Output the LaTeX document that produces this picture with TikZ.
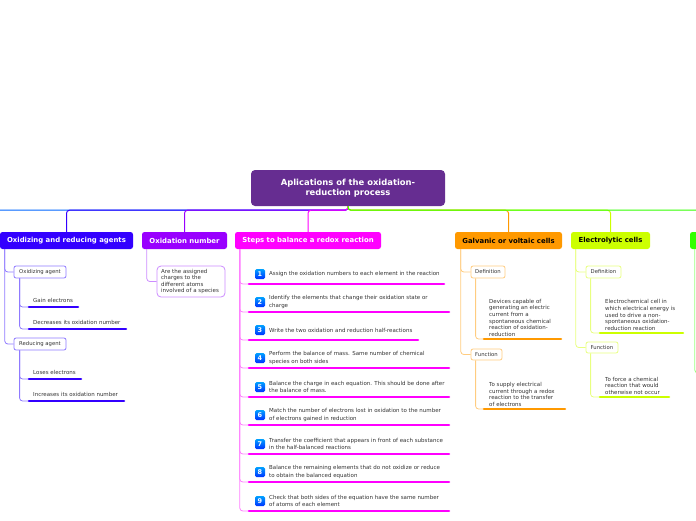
\documentclass[tikz,border=0pt]{standalone}
\usepackage{fontspec}
\setmainfont{DejaVu Sans}
\definecolor{croot}{HTML}{662D91}
\definecolor{czero}{HTML}{0066FF}
\definecolor{cone}{HTML}{3300FF}
\definecolor{ctwo}{HTML}{9900FF}
\definecolor{cthree}{HTML}{FF00FF}
\definecolor{cfour}{HTML}{FF9900}
\definecolor{cfive}{HTML}{CCFF00}
\definecolor{csix}{HTML}{33FF00}
\definecolor{lone}{HTML}{8F7AFF}
\definecolor{ltwo}{HTML}{CC8CFF}
\definecolor{lthree}{HTML}{FF80FF}
\definecolor{lfour}{HTML}{FFCC80}
\definecolor{lfive}{HTML}{E8FF80}
\definecolor{lsix}{HTML}{99FF80}
\definecolor{txt}{HTML}{333333}
\begin{document}
\begin{tikzpicture}[x=1pt,y=-1pt,
  rootbox/.style={fill=croot,rounded corners=4,minimum width=194,minimum height=36,inner sep=0,align=center,text=white,font=\bfseries\fontsize{8.4}{10.5}\selectfont},
  mainbox/.style={rounded corners=2.5,minimum height=17,inner sep=0,font=\bfseries\fontsize{6.9}{7}\selectfont},
  subbox/.style={draw,fill=white,line width=0.8,rounded corners=2,inner sep=0,minimum height=12,text=txt,font=\fontsize{5.3}{6}\selectfont},
  leaftext/.style={inner sep=0,align=left,text=txt,font=\fontsize{5.5}{6.6}\selectfont},
  steptext/.style={inner sep=0,align=left,text=txt,font=\fontsize{5.5}{7.8}\selectfont,anchor=west},
  stepicon/.style={rounded corners=1.5,minimum size=10,inner sep=0,top color=blue!10!cyan!70!blue,bottom color=blue!80!cyan,text=white,font=\bfseries\fontsize{6.5}{6}\selectfont},
  branchline/.style={line width=1,rounded corners=3},
  treeline/.style={line width=0.8,rounded corners=3},
  uline/.style={line width=2.6,line cap=round},
]
\useasboundingbox (0,0) rectangle (696,520);
\clip (0,0) rectangle (696,520);

% root
\node[rootbox] (root) at (348,188) {Aplications of the oxidation-\\reduction process};

% main branches
\node[mainbox,fill=cone,text=white,minimum width=133] (oxa) at (66.5,240.5) {Oxidizing and reducing agents};
\node[mainbox,fill=ctwo,text=white,minimum width=85] (oxn) at (184.5,240.5) {Oxidation number};
\node[mainbox,fill=cthree,text=white,minimum width=146] (steps) at (308,240.5) {Steps to balance a redox reaction};
\node[mainbox,fill=cfour,text=black,minimum width=107] (galv) at (508.5,240.5) {Galvanic or voltaic cells};
\node[mainbox,fill=cfive,text=black,minimum width=79] (elec) at (610.5,240.5) {Electrolytic cells};
\node[mainbox,fill=csix,minimum width=30] (grn) at (705,240.5) {};
\coordinate (offl) at (-40,232);

\draw[branchline,czero] (root.south) -- ++(0,4) -| (offl);
\draw[branchline,cone] (root.south) -- ++(0,4) -| (oxa.north);
\draw[branchline,ctwo] (root.south) -- ++(0,4) -| (oxn.north);
\draw[branchline,cthree] (root.south) -- ++(0,4) -| (steps.north);
\draw[branchline,cfour] (root.south) -- ++(0,4) -| (galv.north);
\draw[branchline,cfive] (root.south) -- ++(0,4) -| (elec.north);
\draw[branchline,csix] (root.south) -- ++(0,4) -| (grn.north);

% ---- Oxidizing and reducing agents
\node[subbox,draw=lone,minimum width=52] (oxag) at (40,272) {Oxidizing agent};
\node[subbox,draw=lone,minimum width=52] (redag) at (40,344) {Reducing agent};
\draw[treeline,lone] ([xshift=5]oxa.south west) |- (oxag.west);
\draw[treeline,lone] ([xshift=5]oxa.south west) |- (redag.west);

\coordinate (a1s) at (29,307); \coordinate (a1e) at (78,307);
\coordinate (a2s) at (29,329); \coordinate (a2e) at (126,329);
\coordinate (a3s) at (29,379); \coordinate (a3e) at (81,379);
\coordinate (a4s) at (29,401); \coordinate (a4e) at (124,401);
\draw[treeline,lone] ([xshift=6]oxag.south west) |- (a1s);
\draw[treeline,lone] ([xshift=6]oxag.south west) |- (a2s);
\draw[treeline,lone] ([xshift=6]redag.south west) |- (a3s);
\draw[treeline,lone] ([xshift=6]redag.south west) |- (a4s);
\draw[uline,cone] (a1s) -- (a1e);
\draw[uline,cone] (a2s) -- (a2e);
\draw[uline,cone] (a3s) -- (a3e);
\draw[uline,cone] (a4s) -- (a4e);
\node[leaftext,anchor=base west] (a1t) at (33,302) {Gain electrons};
\node[leaftext,anchor=base west] (a2t) at (33,324) {Decreases its oxidation number};
\node[leaftext,anchor=base west] (a3t) at (33,374) {Loses electrons};
\node[leaftext,anchor=base west] (a4t) at (33,396) {Increases its oxidation number};

% ---- Oxidation number
\node[draw=ltwo,fill=white,line width=0.8,rounded corners=4,minimum width=68,minimum height=31,inner sep=0] (oxnd) at (191,281.5) {};
\node[leaftext,anchor=west] (oxndt) at (161,281.5) {Are the assigned\\charges to the\\different atoms\\involved of a species};
\draw[treeline,ltwo] ([xshift=5]oxn.south west) |- (oxnd.west);

% ---- Steps
\foreach \n/\yy/\xe/\tx in {
 1/274/444/{Assign the oxidation numbers to each element in the reaction},
 2/302/449/{Identify the elements that change their oxidation state or\\charge},
 3/330/418/{Write the two oxidation and reduction half-reactions},
 4/358/449/{Perform the balance of mass. Same number of chemical\\species on both sides},
 5/387/449/{Balance the charge in each equation. This should be done after\\the balance of mass.},
 6/415/449/{Match the number of electrons lost in oxidation to the number\\of electrons gained in reduction},
 7/444/449/{Transfer the coefficient that appears in front of each substance\\in the half-balanced reactions},
 8/472/449/{Balance the remaining elements that do not oxidize or reduce\\to obtain the balanced equation},
 9/501/449/{Check that both sides of the equation have the same number\\of atoms of each element}}{
  \coordinate (s\n s) at (249,\yy+10);
  \coordinate (s\n e) at (\xe,\yy+10);
  \draw[treeline,lthree] ([xshift=5]steps.south west) |- (s\n s);
  \draw[uline,cthree] (s\n s) -- (s\n e);
  \node[stepicon] (s\n i) at (260,\yy) {\n};
  \node[steptext] (s\n t) at (269,\yy) {\tx};
}

% ---- Galvanic
\node[subbox,draw=lfour,minimum width=34] (gdef) at (488,272) {Definition};
\node[subbox,draw=lfour,minimum width=31,minimum height=11] (gfun) at (486.5,354.5) {Function};
\draw[treeline,lfour] ([xshift=6]galv.south west) |- (gdef.west);
\draw[treeline,lfour] ([xshift=6]galv.south west) |- (gfun.west);
\coordinate (g1s) at (484,339); \coordinate (g1e) at (561,339);
\coordinate (g2s) at (484,409); \coordinate (g2e) at (565,409);
\draw[treeline,lfour] ([xshift=5]gdef.south west) |- (g1s);
\draw[treeline,lfour] ([xshift=5]gfun.south west) |- (g2s);
\draw[uline,cfour] (g1s) -- (g1e);
\draw[uline,cfour] (g2s) -- (g2e);
\node[leaftext,anchor=south west] (g1t) at (489,336.5) {Devices capable of\\generating an electric\\current from a\\spontaneous chemical\\reaction of oxidation-\\reduction};
\node[leaftext,anchor=south west] (g2t) at (489,406.5) {To supply electrical\\current through a redox\\reaction to the transfer\\of electrons};

% ---- Electrolytic
\node[subbox,draw=lfive,minimum width=35] (edef) at (603.5,272) {Definition};
\node[subbox,draw=lfive,minimum width=32,minimum height=11] (efun) at (602,347.5) {Function};
\draw[treeline,lfive] ([xshift=5]elec.south west) |- (edef.west);
\draw[treeline,lfive] ([xshift=5]elec.south west) |- (efun.west);
\coordinate (e1s) at (600,333); \coordinate (e1e) at (683,333);
\coordinate (e2s) at (600,397); \coordinate (e2e) at (669,397);
\draw[treeline,lfive] ([xshift=5]edef.south west) |- (e1s);
\draw[treeline,lfive] ([xshift=5]efun.south west) |- (e2s);
\draw[uline,cfive] (e1s) -- (e1e);
\draw[uline,cfive] (e2s) -- (e2e);
\node[leaftext,anchor=south west] (e1t) at (605,330.5) {Electrochemical cell in\\which electrical energy is\\used to drive a non-\\spontaneous oxidation-\\reduction reaction};
\node[leaftext,anchor=south west] (e2t) at (605,394.5) {To force a chemical\\reaction that would\\otherwise not occur};

% ---- green branch (cut off)
\coordinate (gch) at (712,373);
\draw[treeline,lsix] ([xshift=5]grn.south west) |- (gch);
\end{tikzpicture}
\end{document}
